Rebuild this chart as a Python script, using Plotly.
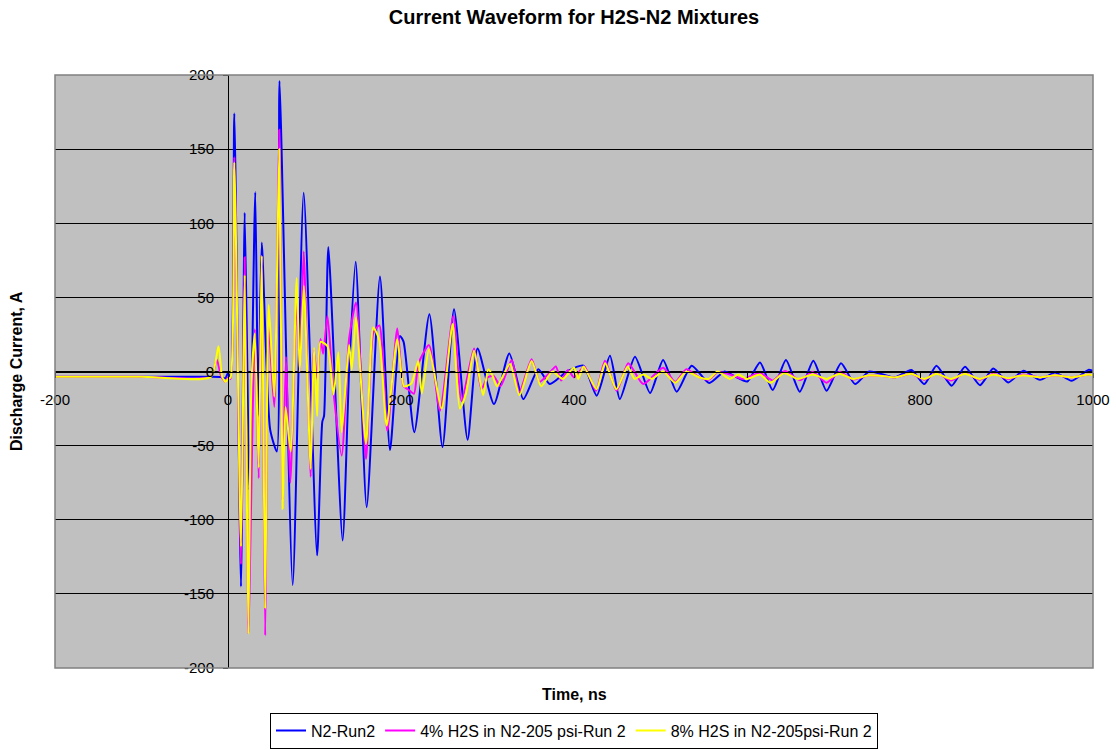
import plotly.graph_objects as go

# ---- data (time in ns, current in A) ----
t_n2 = [-200, -100, -20, -8, -3, 0, 3, 7.3, 15, 19.3, 25, 31.5, 35, 39, 48.7, 56.5, 59.5,
        74.8, 87.5, 103, 109, 111, 116, 132.5, 140, 147.6, 160.3, 175.7, 187.3, 198.8, 203,
        215.4, 232.8, 248, 261.3, 277, 288.5, 307.5, 325.2, 341.4, 358.8, 372, 392,
        410.8, 426.2, 441.6, 453, 470.5, 488, 503, 518.7, 536, 556.4, 574, 585, 600.4,
        615, 629.7, 645, 661, 676.7, 692, 708.7, 724.9, 741.4, 771, 790, 805, 819, 836.6,
        852, 869.4, 884.7, 902, 919.5, 938.7, 956, 975.4, 994.6, 1000]
i_n2 = [-3.6, -3.6, -3.6, -3.8, -4.5, -1, -4, 174, -145, 107, -80, 121, -30, 87, -39, -54, 196,
        -144, 120.5, -124, -34, -30, 84, -114, 0, 74, -91.5, 64, -53, 24, 20,
        -41, 38.6, -51, 42, -46, 15.5, -22, 12.2, -18.6, 1.6, -8.5, 0,
        4, -16.3, 10.6, -18.6, 10, -14.5, 7.7, -13.6, 3.9, -7.8, 0, -3, -6.7,
        6.1, -12.5, 7.7, -13.6, 7.2, -13, 5.6, -8.5, 0, -4, 1, -8.5, 3.9, -9.6,
        3.2, -9.2, 2, -7.4, 0.5, -5.6, -0.6, -6.3, 1.1, 0.5]

t_h4 = [-200, -100, -20, -13, -8, -3, 0, 3, 7.3, 15, 19.3, 23.5, 31, 35.5, 39, 43, 47, 53.5,
        59.3, 63.2, 67, 72, 79.4, 83, 87.5, 95.6, 99, 103, 107, 110, 115, 122, 131.4,
        140, 148, 159.5, 168, 175, 184.2, 195.7, 203, 208, 215, 220, 232.4, 245, 260.5,
        270, 284.4, 293, 300, 307, 315, 328, 336.8, 351, 360, 370, 379, 385, 393, 400,
        412, 425.4, 435.8, 449.3, 462.8, 480, 503, 517, 530, 545, 556, 566, 585, 595,
        615, 630, 644, 661, 676, 692, 707, 723, 741, 757, 771, 790, 805, 819, 836, 852,
        869, 885, 902, 919, 939, 956, 975, 995, 1000]
i_h4 = [-3.6, -3.6, -3.6, 8, -3, -7, -4, -5, 144.5, -130, 77, -176, 28.5, -72, 78, -178, 30, -24,
        163, -86, 10, -75, 50, 0, 81, -71, 15, -5, 22, 12, 37.5, -14, -56.7,
        22, 46.5, -59, 26, 31, -40, 29, -10, -12, -15, 5, 17.8, -26.4, 37.5,
        -20, 15.5, -12, -4, -3, -10, 7.7, -14, 8.3, -7, -2, 3.4, -6, 1, -4,
        3.4, -13, 7.2, -13, 5.6, -8.5, 2.5, -7, 1.6, -4, -5.5, -0.3, -3, -5,
        -1, -6, 0.3, -5.8, -0.4, -7.6, -0.4, -5.4, -2.5, -3, -4, -1.5, -5.5, -1, -6, -1,
        -5.5, -1.5, -5, -2, -4, -2.5, -4, -2, -2.5]

t_h8 = [-200, -100, -20, -11, -7, -3, 0, 3, 7.3, 15, 19.3, 23.5, 27, 31, 35.5, 39, 43, 47,
        53.5, 59.3, 63.2, 66.5, 72.5, 79.4, 83, 87.7, 95.6, 99.4, 103, 107, 115, 122,
        127.6, 131.4, 140, 143, 148, 159.5, 168, 175, 183.4, 195.7, 203.5, 212, 220,
        224, 232.4, 247, 259.7, 268, 275, 284.4, 295, 301, 306, 311, 326, 337, 351,
        362, 375, 387, 400, 405, 411, 426, 436, 449, 462, 470, 480, 490, 503, 517, 530,
        545, 556, 566, 580, 590, 600, 615, 627, 643, 659, 676, 692, 707, 723, 741, 757,
        771, 790, 805, 819, 836, 852, 869, 885, 902, 919, 939, 956, 975, 995, 1000]
i_h8 = [-3.6, -3.6, -3.6, 17, -3, -7, -5, -4, 141, -118, 65, -177, -10, 25.6, -65, 78, -160, 45,
        -17, 150, -92.6, -24, -54, 63, 0, 57.7, -65.7, 16, -30, 20, 17, -15.5,
        13, -41, 18, 1, 36.4, -49, 29.7, 21, -36.5, 21.8, -10, -8, 7,
        -15, 15, -25, 32, -25, -15, 14, -16, 1.5, -3, -10, 5, -16, 7,
        -10, 0, -5, 2.5, -5, 3.4, -12, 5.6, -12, 3.4, -5, -2, -5, 0, -7.6, 0,
        -4, -5, 0, -5, -2, -5, -2, -7.6, -1, -5, -2, -5, -1.5, -5, -2.5, -3,
        -4, -1.5, -5, -1.5, -5, -1.5, -5, -2, -4.5, -2.5, -4, -2.5, -4, -2, -2.5]

series = [
    ("N2-Run2", t_n2, i_n2, "#0000FF"),
    ("4% H2S in N2-205 psi-Run 2", t_h4, i_h4, "#FF00FF"),
    ("8% H2S in N2-205psi-Run 2", t_h8, i_h8, "#FFFF00"),
]

x_ticks = [-200, 0, 200, 400, 600, 800, 1000]
x_labels = ["-200", "0", "200", "400", "600", "800", "1000"]
y_ticks = [-200, -150, -100, -50, 0, 50, 100, 150, 200]
y_labels = ["-200", "-150", "-100", "-50", "0", "50", "100", "150", "200"]

FONT = "Arial, Liberation Sans, sans-serif"

fig = go.Figure()
for name, t, v, c in series:
    fig.add_trace(go.Scatter(x=t, y=v, mode="lines", name=name,
                             line=dict(color=c, width=2, shape="spline", smoothing=0.6)))

fig.update_layout(
    width=1116, height=750,
    margin=dict(l=55, r=23, t=75, b=82, autoexpand=False),
    paper_bgcolor="white",
    plot_bgcolor="#C0C0C0",
    font=dict(family=FONT, size=15, color="black"),
    title=dict(text="<b>Current Waveform for H2S-N2 Mixtures</b>", x=0.5, xanchor="center",
               xref="paper", y=0.977, yanchor="middle", font=dict(size=20, family=FONT)),
    showlegend=True,
    legend=dict(orientation="h", x=0.5, xanchor="center", yref="container", y=0.002,
                yanchor="bottom", bordercolor="black", borderwidth=1, bgcolor="white",
                font=dict(size=16, family=FONT), itemwidth=30, tracegroupgap=0),
    xaxis=dict(range=[-200, 1000], tickvals=x_ticks, ticktext=x_labels, showgrid=False,
               zeroline=False, automargin=False,
               showline=True, linecolor="black", linewidth=1, anchor="free", position=0.5,
               ticks="outside", ticklen=5, tickcolor="black", domain=[0, 1],
               ticklabelstandoff=9, tickfont=dict(size=15)),
    yaxis=dict(range=[-200, 200], tickvals=y_ticks, ticktext=y_labels, showgrid=True,
               gridcolor="black", automargin=False,
               gridwidth=1, zeroline=False, showline=True, linecolor="black", linewidth=1,
               anchor="free", position=1/6, ticks="outside", ticklen=5, tickcolor="black",
               domain=[0, 1], ticklabelstandoff=6, tickfont=dict(size=15)),
    shapes=[dict(type="rect", xref="paper", yref="paper", x0=0, x1=1, y0=0, y1=1,
                 line=dict(color="#808080", width=1.5), layer="above")],
    annotations=[
        dict(text="<b>Time, ns</b>", xref="paper", yref="paper", x=0.5, y=-0.045,
             xanchor="center", yanchor="middle", showarrow=False, font=dict(size=16)),
        dict(text="<b>Discharge Current, A</b>", xref="paper", yref="paper", x=-0.037, y=0.5,
             xanchor="center", yanchor="middle", textangle=-90, showarrow=False,
             font=dict(size=16)),
    ],
)

fig.write_html("out.html")
